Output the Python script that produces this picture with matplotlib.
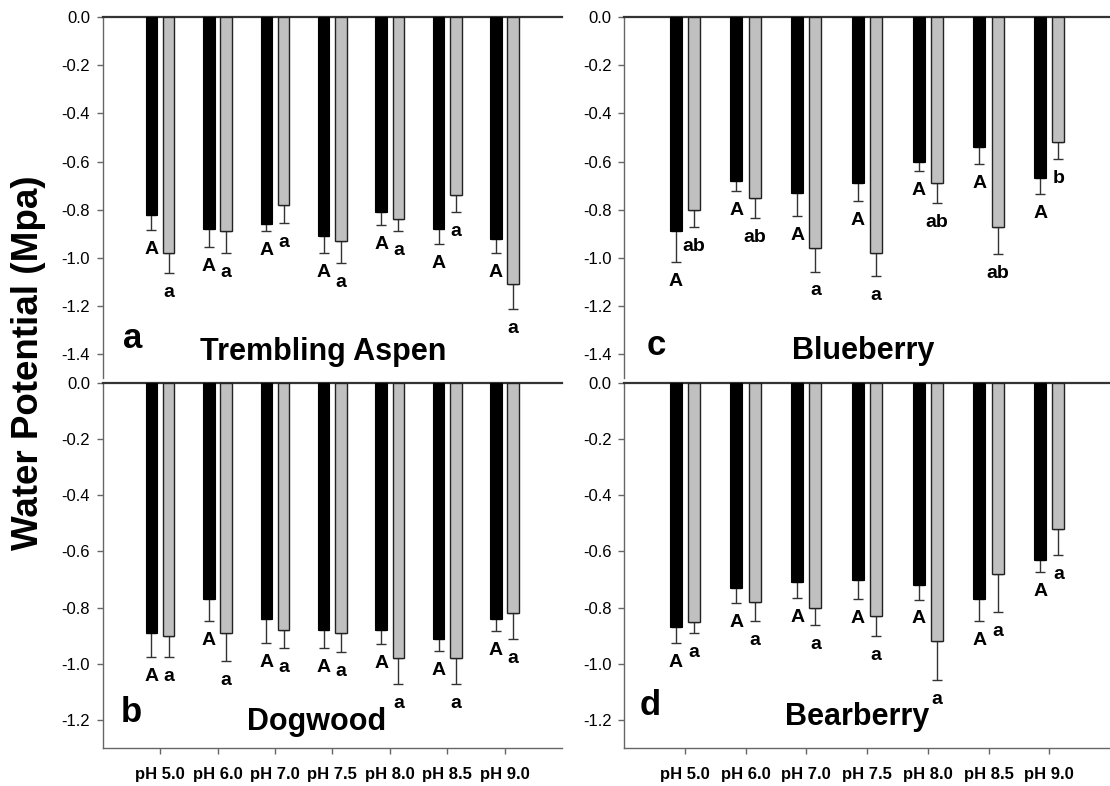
import matplotlib
matplotlib.use("Agg")
import matplotlib.pyplot as plt
import numpy as np

plt.rcParams["font.family"] = ["Liberation Sans", "DejaVu Sans"]

# ── data: mean water potential (MPa) and lower SE per pH treatment ──────────
ph_labels = ["pH 5.0", "pH 6.0", "pH 7.0", "pH 7.5", "pH 8.0", "pH 8.5", "pH 9.0"]

aspen_black = [-0.82, -0.88, -0.86, -0.91, -0.81, -0.88, -0.92]
aspen_black_err = [0.064, 0.076, 0.028, 0.069, 0.054, 0.061, 0.061]
aspen_grey = [-0.98, -0.89, -0.78, -0.93, -0.84, -0.74, -1.11]
aspen_grey_err = [0.085, 0.092, 0.075, 0.091, 0.050, 0.068, 0.103]
aspen_black_lbl = ["A", "A", "A", "A", "A", "A", "A"]
aspen_grey_lbl = ["a", "a", "a", "a", "a", "a", "a"]

dogwood_black = [-0.89, -0.77, -0.84, -0.88, -0.88, -0.91, -0.84]
dogwood_black_err = [0.087, 0.079, 0.086, 0.065, 0.048, 0.046, 0.044]
dogwood_grey = [-0.90, -0.89, -0.88, -0.89, -0.98, -0.98, -0.82]
dogwood_grey_err = [0.077, 0.101, 0.065, 0.067, 0.093, 0.093, 0.091]
dogwood_black_lbl = ["A", "A", "A", "A", "A", "A", "A"]
dogwood_grey_lbl = ["a", "a", "a", "a", "a", "a", "a"]

blueberry_black = [-0.89, -0.68, -0.73, -0.69, -0.60, -0.54, -0.67]
blueberry_black_err = [0.127, 0.043, 0.097, 0.072, 0.038, 0.069, 0.065]
blueberry_grey = [-0.80, -0.75, -0.96, -0.98, -0.69, -0.87, -0.52]
blueberry_grey_err = [0.071, 0.085, 0.097, 0.094, 0.084, 0.115, 0.069]
blueberry_black_lbl = ["A", "A", "A", "A", "A", "A", "A"]
blueberry_grey_lbl = ["ab", "ab", "a", "a", "ab", "ab", "b"]

bearberry_black = [-0.87, -0.73, -0.71, -0.70, -0.72, -0.77, -0.63]
bearberry_black_err = [0.056, 0.052, 0.057, 0.069, 0.051, 0.078, 0.044]
bearberry_grey = [-0.85, -0.78, -0.80, -0.83, -0.92, -0.68, -0.52]
bearberry_grey_err = [0.042, 0.067, 0.062, 0.072, 0.137, 0.134, 0.094]
bearberry_black_lbl = ["A", "A", "A", "A", "A", "A", "A"]
bearberry_grey_lbl = ["a", "a", "a", "a", "a", "a", "a"]

GREY = "#C0C0C0"
ERR_COLOR = "#333333"
SPINE_GREY = "#666666"

fig = plt.figure(figsize=(11.10, 7.86), dpi=100)

ax_a = fig.add_axes([0.0925, 0.519, 0.4138, 0.459])
ax_b = fig.add_axes([0.0925, 0.0483, 0.4138, 0.4644])
ax_c = fig.add_axes([0.5622, 0.519, 0.4378, 0.459])
ax_d = fig.add_axes([0.5622, 0.0483, 0.4378, 0.4644])

panels = [
    (ax_a, "a", "Trembling Aspen", aspen_black, aspen_black_err, aspen_grey,
     aspen_grey_err, aspen_black_lbl, aspen_grey_lbl, -1.5,
     (0.066, 0.11), (0.48, 0.072), False),
    (ax_b, "b", "Dogwood", dogwood_black, dogwood_black_err, dogwood_grey,
     dogwood_grey_err, dogwood_black_lbl, dogwood_grey_lbl, -1.3,
     (0.063, 0.096), (0.466, 0.072), True),
    (ax_c, "c", "Blueberry", blueberry_black, blueberry_black_err, blueberry_grey,
     blueberry_grey_err, blueberry_black_lbl, blueberry_grey_lbl, -1.5,
     (0.066, 0.089), (0.492, 0.075), False),
    (ax_d, "d", "Bearberry", bearberry_black, bearberry_black_err, bearberry_grey,
     bearberry_grey_err, bearberry_black_lbl, bearberry_grey_lbl, -1.3,
     (0.053, 0.116), (0.48, 0.084), True),
]

x = np.arange(1, len(ph_labels) + 1)
w = 0.2
off = 0.15

for (ax, letter, title, blk, blk_e, gry, gry_e, blk_lbl, gry_lbl, ymin,
     letter_pos, title_pos, show_x) in panels:
    blk = np.array(blk)
    gry = np.array(gry)
    blk_e = np.array(blk_e)
    gry_e = np.array(gry_e)

    ax.bar(x - off, blk, width=w, color="black", edgecolor="black",
           linewidth=0.8, zorder=3)
    ax.bar(x + off, gry, width=w, color=GREY, edgecolor="#222222",
           linewidth=1.0, zorder=3)

    # one-sided (downward) error bars; the upper cap sits under the bar edge
    for xs, vals, errs in [(x - off, blk, blk_e), (x + off, gry, gry_e)]:
        ax.errorbar(xs, vals, yerr=[errs, np.zeros_like(errs)], fmt="none",
                    ecolor=ERR_COLOR, elinewidth=1.0, capsize=3.5,
                    capthick=1.0, zorder=2)

    # significance letters under each error bar
    for xs, vals, errs, lbls in [(x - off, blk, blk_e, blk_lbl),
                                  (x + off, gry, gry_e, gry_lbl)]:
        for xi, v, e, t in zip(xs, vals, errs, lbls):
            ax.annotate(t, (xi, v - e), xytext=(0, -14),
                        textcoords="offset points", ha="center", va="center",
                        fontsize=14, fontweight="bold", zorder=4)

    ax.text(*letter_pos, letter, transform=ax.transAxes, ha="center",
            va="center", fontsize=25, fontweight="bold")
    ax.text(*title_pos, title, transform=ax.transAxes, ha="center",
            va="center", fontsize=22, fontweight="bold")

    ax.set_xlim(0, 8)
    ax.set_ylim(ymin, 0)
    ticks = np.arange(0, ymin - 0.001, -0.2)
    if ymin < -1.4:
        ticks = ticks[ticks >= -1.41]
    ax.set_yticks(ticks)
    ax.set_yticklabels([f"{t:.1f}" if abs(t) > 1e-9 else "0.0" for t in ticks])

    ax.spines["right"].set_visible(False)
    ax.spines["top"].set_color("#333333")
    ax.spines["top"].set_linewidth(1.6)
    ax.spines["left"].set_color(SPINE_GREY)
    ax.spines["left"].set_linewidth(1.0)
    ax.tick_params(axis="y", direction="out", length=4, width=1.0,
                   color=SPINE_GREY, labelsize=12, pad=5)

    if show_x:
        ax.spines["bottom"].set_color(SPINE_GREY)
        ax.spines["bottom"].set_linewidth(1.0)
        ax.set_xticks(x)
        ax.set_xticklabels(ph_labels, fontsize=12, fontweight="bold")
        ax.tick_params(axis="x", direction="out", length=4, width=1.0,
                       color=SPINE_GREY, pad=10)
    else:
        ax.spines["bottom"].set_visible(False)
        ax.set_xticks([])

fig.text(0.026, 0.539, "Water Potential (Mpa)", rotation=90, ha="center",
         va="center", fontsize=26.5, fontweight="bold")

fig.savefig("out.png", dpi=100)
